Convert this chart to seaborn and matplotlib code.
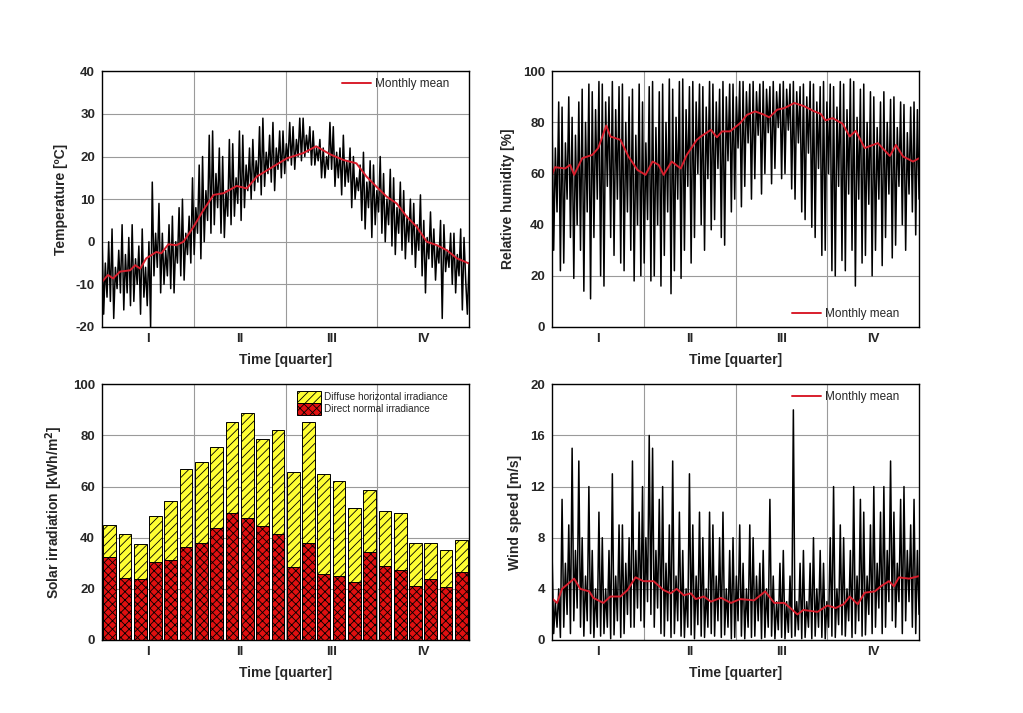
import numpy as np
import pandas as pd
import matplotlib
matplotlib.use("Agg")
import matplotlib.pyplot as plt
import seaborn as sns

# ---------------- data ----------------
quarters = ["I", "II", "III", "IV"]

# Temperature, hourly trace approximated by alternating highs/lows
temp_vals = [
    2, -17, -5, -13, 0, -14,   3, -18, -6, -11, -2, -12,   4, -16, -3, -12, 1, -15,
    4, -14, -4, -10, -1, -17,  3, -13, -6, -15, 0, -20,    14, -8, 2, -6, 9, -12,
    2, -10, -2, -8, 4, -11,    6, -12, 0, -5, 8, -8,       10, -9, 2, -3, 6, -5,
    15, -3, 8, 2, 18, -4,      20, 0, 12, 5, 25, 2,        26, 4, 16, 8, 22, 2,
    20, 1, 12, 6, 24, 4,       23, 6, 15, 9, 26, 5,        25, 8, 18, 12, 22, 10,
    24, 12, 19, 14, 27, 11,    29, 13, 21, 16, 25, 14,     28, 12, 22, 17, 26, 15,
    26, 16, 23, 19, 28, 18,    27, 17, 24, 20, 29, 19,     29, 20, 25, 21, 27, 18,
    26, 18, 22, 19, 24, 15,    22, 15, 20, 17, 28, 17,     27, 13, 21, 15, 22, 11,
    25, 13, 19, 14, 22, 8,     20, 10, 15, 12, 18, 5,      21, 3, 14, 8, 19, 1,
    18, 4, 12, 7, 20, 2,       16, 0, 10, 4, 17, -1,       15, -3, 8, 2, 14, -2,
    12, -4, 6, 0, 10, -3,      9, -6, 4, -2, 11, -8,       5, -12, 1, -4, 7, -6,
    3, -9, -1, -5, 5, -18,     4, -7, -2, -6, 2, -10,      2, -12, -3, -8, 3, -16,
    1, -9, -17, -5,
]
temp_mean_days = [0, 6, 11, 18, 28, 33, 38, 44, 54, 59, 66, 74, 81, 91, 101, 111, 121, 134,
                  144, 154, 170, 184, 200, 213, 227, 240, 253, 263, 273, 283, 293, 303, 313,
                  323, 333, 343, 353, 365]
temp_mean = [-9.4, -7.8, -8.6, -7.0, -6.7, -5.5, -6.3, -3.9, -2.4, -2.7, -0.6, -0.8, 0.0, 3.5,
             7.5, 11.0, 11.4, 13.1, 12.5, 15.3, 17.6, 19.6, 20.8, 22.4, 20.5, 19.2, 18.4, 15.3,
             12.9, 10.6, 9.0, 5.9, 3.5, 0.0, -0.8, -2.0, -3.9, -5.1]

# Relative humidity
hum_vals = [
    83, 30, 70, 45, 88, 22,   86, 25, 72, 50, 90, 35,   82, 19, 75, 40, 88, 30,
    93, 14, 80, 45, 95, 11,   92, 35, 85, 50, 96, 20,   95, 16, 88, 55, 90, 35,
    96, 28, 85, 50, 94, 25,   95, 22, 80, 45, 90, 30,   93, 18, 75, 40, 95, 20,
    88, 25, 72, 42, 94, 18,   96, 20, 78, 40, 92, 16,   95, 28, 80, 45, 97, 13,
    93, 22, 82, 50, 96, 19,   97, 30, 85, 55, 94, 25,   96, 35, 88, 60, 95, 40,
    94, 30, 86, 58, 96, 38,   95, 42, 88, 62, 93, 35,   96, 32, 90, 65, 95, 45,
    95, 50, 90, 70, 96, 47,   96, 55, 92, 72, 95, 50,   96, 58, 92, 75, 95, 52,
    96, 60, 93, 76, 94, 56,   96, 62, 92, 78, 95, 58,   96, 60, 93, 77, 95, 54,
    96, 50, 92, 72, 94, 45,   95, 42, 90, 68, 96, 39,   95, 35, 88, 62, 94, 28,
    96, 30, 88, 60, 95, 22,   94, 20, 86, 55, 96, 26,   95, 22, 85, 52, 97, 30,
    96, 16, 82, 50, 93, 25,   95, 28, 80, 48, 92, 20,   90, 30, 78, 50, 88, 24,
    92, 35, 80, 52, 89, 27,   90, 32, 78, 55, 88, 40,   87, 30, 76, 52, 86, 45,
    88, 36, 85, 50,
]
hum_mean_days = [0, 3, 13, 18, 22, 30, 40, 46, 54, 58, 68, 76, 85, 93, 100, 106, 111, 119, 128,
                 134, 144, 148, 158, 164, 169, 177, 187, 194, 202, 211, 216, 224, 231, 241, 251,
                 261, 267, 272, 279, 289, 296, 302, 311, 324, 336, 342, 349, 359, 365]
hum_mean = [59.5, 62.5, 62.0, 63.4, 59.5, 66.0, 67.3, 70.0, 78.8, 74.5, 73.2, 66.7, 61.4, 59.5,
            64.7, 63.4, 59.5, 64.7, 62.0, 67.3, 73.2, 74.5, 77.1, 74.2, 76.5, 76.5, 79.7, 83.0,
            84.3, 83.0, 82.0, 85.0, 85.6, 87.6, 86.3, 84.3, 83.4, 80.8, 81.7, 79.5, 74.5, 76.7,
            70.0, 71.9, 66.9, 71.2, 66.7, 64.7, 66.0]

# Wind speed
wind_vals = [
    7, 0.5, 3, 1, 4, 0.2,      11, 1, 6, 2, 9, 0.5,       15, 1.5, 7, 2.5, 14, 1,
    8, 0.3, 5, 1.5, 12, 0.5,   7, 0.2, 4, 1, 10, 0.3,     8, 0.5, 4, 1, 7, 0.1,
    13, 0.4, 5, 1.5, 9, 0.2,   9, 0.5, 6, 2, 8, 1,        14, 1, 7, 2.5, 10, 1.5,
    12, 1, 8, 3, 16, 2,        15, 1, 7, 2.5, 11, 0.5,    12, 0.3, 6, 1.5, 9, 0.2,
    14, 0.5, 5, 1.5, 10, 0.3,  7, 0.2, 4, 1, 13, 0.4,     9, 0.1, 5, 1.2, 10, 0.3,
    8, 0.2, 4, 1, 10, 0.5,     9, 0.3, 5, 1.5, 8, 0.2,    10, 0.4, 4, 1, 7, 0.1,
    8, 0.2, 5, 1.5, 9, 0.3,    6, 0.1, 4, 1, 9, 0.2,      8, 0.3, 5, 1.5, 6, 0.1,
    7, 0.2, 4, 1, 11, 0.3,     5, 0.1, 3, 0.8, 6, 0.2,    7, 0.1, 3, 0.6, 5, 0.2,
    18, 0.3, 3, 0.8, 6, 0.1,   7, 0.2, 3, 1, 6, 0.1,      8, 0.3, 4, 1, 7, 0.2,
    6, 0.1, 3, 1, 8, 0.3,      12, 0.2, 4, 1.2, 9, 0.4,   8, 0.3, 4, 1.5, 7, 0.2,
    12, 0.5, 5, 1.5, 11, 0.3,  10, 0.4, 5, 2, 9, 0.5,     12, 1, 6, 2.5, 10, 0.5,
    12, 1, 7, 3, 14, 1.5,      10, 1, 6, 3, 11, 0.5,      12, 1.5, 7, 3, 9, 1,
    11, 0.5, 7, 2,
]
wind_mean_days = [0, 5, 10, 22, 28, 37, 41, 51, 58, 68, 75, 83, 91, 101, 111, 118, 124, 131, 138,
                  143, 151, 158, 168, 178, 187, 201, 212, 221, 231, 237, 244, 250, 264, 274, 282,
                  290, 296, 304, 311, 321, 327, 335, 340, 345, 355, 365]
wind_mean = [3.26, 2.9, 4.0, 4.8, 4.0, 3.8, 3.3, 2.9, 3.4, 3.4, 3.9, 4.9, 4.6, 4.6, 3.9, 3.65,
             4.0, 3.5, 3.65, 3.2, 3.4, 3.0, 3.3, 2.9, 3.2, 3.1, 3.8, 2.9, 2.9, 2.5, 2.0, 2.35,
             2.2, 2.7, 2.5, 2.8, 3.4, 2.8, 3.7, 3.8, 4.2, 4.6, 4.2, 4.9, 4.8, 5.0]

# Solar irradiation (semi-monthly totals)
solar_total = [45.0, 41.3, 37.4, 48.4, 54.2, 66.8, 69.5, 75.4, 85.3, 88.7, 78.5, 82.3,
               65.6, 85.1, 65.1, 62.2, 51.6, 58.5, 50.3, 49.8, 37.8, 38.1, 35.1, 39.1]
solar_direct = [32.6, 24.4, 24.0, 30.5, 31.4, 36.2, 37.9, 43.9, 49.5, 47.6, 44.6, 41.5,
                28.7, 37.9, 25.8, 25.2, 22.7, 34.6, 29.1, 27.4, 21.3, 23.7, 20.9, 26.6]

# ---------------- style ----------------
sns.set_style("white")
plt.rcParams["font.family"] = ["Liberation Sans", "DejaVu Sans"]
plt.rcParams["hatch.linewidth"] = 0.6
plt.rcParams["axes.unicode_minus"] = False

RED = "#d81e2c"
GRID = "#9a9a9a"

fig = plt.figure(figsize=(10.23, 7.13), dpi=100)
W, H = 0.3588, 0.3586
ax_t = fig.add_axes([0.0997, 0.5414, W, H])
ax_h = fig.add_axes([0.5396, 0.5414, W, H])
ax_s = fig.add_axes([0.0997, 0.1024, W, H])
ax_w = fig.add_axes([0.5396, 0.1024, W, H])


def style_axis(ax, grid_x, label_x, ylim, yticks, ylabel):
    ax.set_ylim(*ylim)
    ax.set_yticks(yticks)
    ax.set_xticks(grid_x)
    ax.set_xticklabels([])
    ax.set_xticks(label_x, minor=True)
    ax.set_xticklabels(quarters, minor=True, fontsize=9.5, fontweight="bold")
    ax.tick_params(axis="both", which="both", length=0, pad=4)
    ax.tick_params(axis="y", labelsize=9.5, pad=5)
    for lab in ax.get_yticklabels():
        lab.set_fontweight("bold")
    ax.grid(True, which="major", color=GRID, linewidth=0.8)
    ax.set_axisbelow(True)
    for s in ax.spines.values():
        s.set_visible(True)
        s.set_color("black")
        s.set_linewidth(1.0)
    ax.set_xlabel("Time [quarter]", fontsize=10, fontweight="bold", labelpad=6)
    ax.set_ylabel(ylabel, fontsize=10, fontweight="bold", labelpad=6)


day_grid = [91.25, 182.5, 273.75]
day_labels = [45.6, 136.9, 228.1, 319.4]


def time_panel(ax, vals, mdays, mvals, ylim, yticks, ylabel, legloc, bbox):
    days = np.linspace(0, 365, len(vals))
    df = pd.DataFrame({"day": days, "v": vals})
    dm = pd.DataFrame({"day": mdays, "v": mvals})
    sns.lineplot(data=df, x="day", y="v", color="black", linewidth=1.1,
                 estimator=None, sort=False, ax=ax, legend=False)
    sns.lineplot(data=dm, x="day", y="v", color=RED, linewidth=1.4,
                 estimator=None, sort=False, ax=ax, label="Monthly mean")
    ax.set_xlim(0, 365)
    style_axis(ax, day_grid, day_labels, ylim, yticks, ylabel)
    ax.legend(loc=legloc, bbox_to_anchor=bbox, frameon=False, fontsize=8.5,
              handlelength=2.5, handletextpad=0.3, borderaxespad=0.2)


time_panel(ax_t, temp_vals, temp_mean_days, temp_mean, (-20, 40), range(-20, 41, 10),
           "Temperature [\u00baC]", "upper right", (0.965, 1.0))
time_panel(ax_h, hum_vals, hum_mean_days, hum_mean, (0, 100), range(0, 101, 20),
           "Relative humidity [%]", "lower right", (0.965, 0.0))
time_panel(ax_w, wind_vals, wind_mean_days, wind_mean, (0, 20), range(0, 21, 4),
           "Wind speed [m/s]", "upper right", (0.965, 1.0))

# Solar bars
idx = list(range(len(solar_total)))
sdf = pd.DataFrame({"idx": idx, "total": solar_total, "direct": solar_direct})
sns.barplot(data=sdf, x="idx", y="total", color="#ffff33", edgecolor="black", linewidth=0.7,
            width=0.83, saturation=1, ax=ax_s, label="Diffuse horizontal irradiance",
            native_scale=True)
n1 = len(ax_s.patches)
for p in ax_s.patches:
    p.set_hatch("////")
sns.barplot(data=sdf, x="idx", y="direct", color="#e01010", edgecolor="black", linewidth=0.7,
            width=0.83, saturation=1, ax=ax_s, label="Direct normal irradiance",
            native_scale=True)
for p in ax_s.patches[n1:]:
    p.set_hatch("xxxx")
ax_s.set_xlim(-0.5, 23.5)
style_axis(ax_s, [5.5, 11.5, 17.5], [2.5, 8.5, 14.5, 20.5], (0, 100), range(0, 101, 20),
           "Solar irradiation [kWh/m$^\\mathbf{2}$]")
ax_s.legend(loc="upper right", bbox_to_anchor=(0.96, 1.0), frameon=False, fontsize=7.2,
            handlelength=2.4, handleheight=1.4, handletextpad=0.3, labelspacing=0.05,
            borderaxespad=0.3)

fig.savefig("out.png", dpi=100)
